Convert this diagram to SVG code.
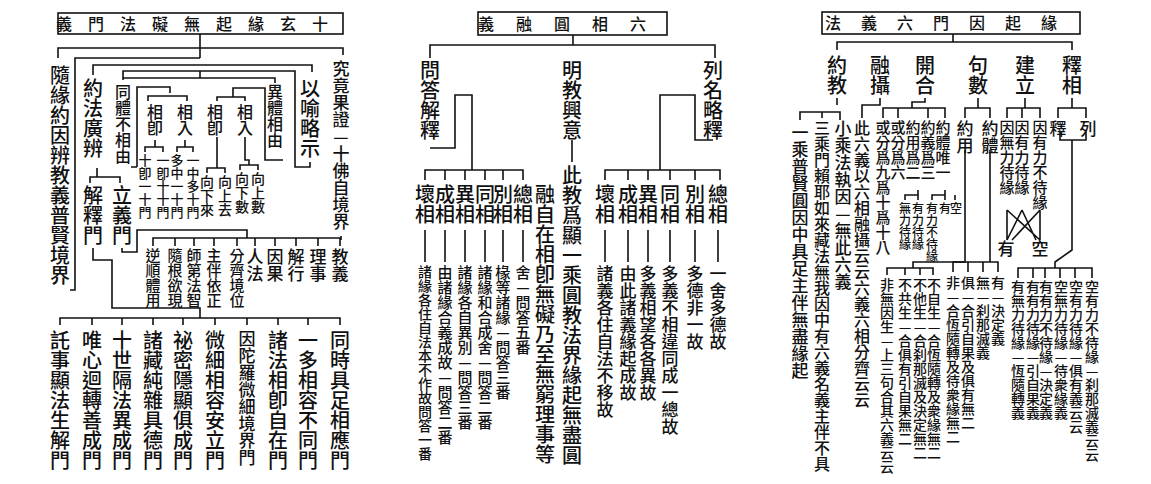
<svg xmlns="http://www.w3.org/2000/svg" width="1151" height="484" viewBox="0 0 1151 484">
<style>
text{font-family:"Noto Sans CJK TC","Noto Sans CJK JP",sans-serif;fill:#111;font-weight:500}
.v{writing-mode:vertical-rl;text-orientation:upright;text-anchor:start}
.h{text-anchor:middle}
.s20{font-size:20px}.s17{font-size:17px}.s16{font-size:16px}.s15{font-size:15px}.s14{font-size:14px}.s13{font-size:13px}.s12{font-size:12px}
.c path,.c rect{fill:none;stroke:#111;stroke-width:1.6}
</style>
<rect width="1151" height="484" fill="#fff"/>
<g class="c" id="connectors">
<rect x="58" y="13" width="285" height="21"/>
<rect x="478" y="12" width="189" height="23"/>
<rect x="822" y="12" width="258" height="22"/>
<!-- left panel -->
<path d="M200 34V58M58 58V48H343V55M200 58H75V290H70"/>
<path d="M93 75V65H312V72M123 80V71H295V167H310V162M123 80V78H275V83M200 78V71"/>
<path d="M137 167H131M137 167V87H170V93M148 101V96H187V101"/>
<path d="M283 160H265V88H233V97M217 101V97H245V101"/>
<path d="M155 140V147M145 152V147H163V152M185 140V147M177 152V147H193V152"/>
<path d="M217 137V168M207 173V168H225V173M245 137V160H249V165M240 170V165H258V170"/>
<path d="M97 168V177M90 183V177H120V183"/>
<path d="M93 248V260H112V308H200V318M60 325V318H340V325M92 318V325M122 318V325M153 318V325M183 318V325M215 318V325M247 318V325M278 318V325M308 318V325"/>
<path d="M122 248V252H137V230H247V238M153 246V238H340V246M175 238V246M194 238V246M214 238V246M237 238V246M255 238V246M275 238V246M296 238V246M318 238V246"/>
<path d="M341 236V240"/>
<!-- middle panel -->
<path d="M573 35V45M430 58V45H715V58M572 140V162"/>
<path d="M430 148H455V95H472V170M425 180V170H523V180M445 170V180M465 170V180M485 170V180M503 170V180"/>
<path d="M425 230V262M445 230V262M465 230V262M485 230V262M503 230V262M523 230V262"/>
<path d="M713 140H695V95H660V170M605 180V170H720V180M628 170V180M648 170V180M670 170V180M695 170V180"/>
<path d="M605 230V262M628 230V262M648 230V262M670 230V262M695 230V262M718 230V262"/>
<!-- right panel -->
<path d="M953 34V42M837 50V42H1072V50"/>
<path d="M837 98V105M800 120V112H840V120M822 112V118"/>
<path d="M880 98V105H862V118M925 98V102H912V108M883 118V108H945V118M898 108V118M928 108V118"/>
<path d="M905 200V195H918V200M918 195V190M932 200V195H945V200M945 195V190M955 200V195"/>
<path d="M978 98V108M965 118V108H990V118M965 150V262H913V268M887 275V268H933V275M905 268V275M920 268V275"/>
<path d="M990 150V262M953 272V262H998V272M968 262V272M983 262V272"/>
<path d="M1025 98V108M1007 118V108H1040V118M1022 108V118"/>
<path d="M1007 210V240M1040 210V240M1007 210L1040 240M1022 210L1007 240M1040 210L1012 240M1022 210L1036 240"/>
<path d="M1072 98V108M1058 118V108H1086V118M1060 132V140H1086V132M1072 140V250L1055 262V268M1018 278V268H1092V278M1033 268V278M1045 268V278M1060 268V278M1075 268V278"/>
</g>
<g id="title-left"><text class="h s16" x="200" y="30" letter-spacing="16">義門法礙無起緣玄十</text></g>
<g id="title-mid"><text class="h s16" x="573" y="30" letter-spacing="22">義融圓相六</text></g>
<g id="title-right"><text class="h s16" x="951" y="29" letter-spacing="20">法義六門因起緣</text></g>
<g id="l1"><text class="v s20" x="60" y="65">隨緣約因辨教義普賢境界</text></g>
<g id="l2"><text class="v s20" x="93" y="78">約法廣辨</text></g>
<g id="l3"><text class="v s20" x="93" y="185">解釋門</text></g>
<g id="l4"><text class="v s20" x="122" y="185">立義門</text></g>
<g id="l5"><text class="v s16" x="123" y="84">同體不相由</text></g>
<g id="l6"><text class="v s16" x="155" y="104">相卽</text></g>
<g id="l7"><text class="v s16" x="185" y="104">相入</text></g>
<g id="l8"><text class="v s16" x="215" y="104">相卽</text></g>
<g id="l9"><text class="v s16" x="245" y="104">相入</text></g>
<g id="l10"><text class="v s13" x="145" y="154">十卽一十門</text></g>
<g id="l11"><text class="v s13" x="163" y="154">一卽十十門</text></g>
<g id="l12"><text class="v s13" x="177" y="154">多中一十門</text></g>
<g id="l13"><text class="v s13" x="193" y="154">一中多十門</text></g>
<g id="l14"><text class="v s14" x="207" y="175">向下來</text></g>
<g id="l15"><text class="v s14" x="225" y="175">向上去</text></g>
<g id="l16"><text class="v s14" x="242" y="172">向下數</text></g>
<g id="l17"><text class="v s14" x="258" y="172">向上數</text></g>
<g id="l18"><text class="v s16" x="275" y="84">異體相由</text></g>
<g id="l19"><text class="v s20" x="310" y="78">以喻略示</text></g>
<g id="l20"><text class="v s17" x="341" y="60">究竟果證—十佛自境界</text></g>
<g id="l21"><text class="v s17" x="340" y="248">教義</text><text class="v s17" x="318" y="248">理事</text><text class="v s17" x="296" y="248">解行</text><text class="v s17" x="275" y="248">因果</text><text class="v s17" x="255" y="248">人法</text><text class="v s15" x="237" y="248">分齊境位</text><text class="v s15" x="214" y="248">主伴依正</text><text class="v s15" x="194" y="248">師第法智</text><text class="v s15" x="175" y="248">隨根欲現</text><text class="v s15" x="153" y="248">逆順體用</text></g>
<g id="l22"><text class="v s20" x="60" y="330">託事顯法生解門</text></g>
<g id="l23"><text class="v s20" x="92" y="330">唯心迴轉善成門</text></g>
<g id="l24"><text class="v s20" x="122" y="330">十世隔法異成門</text></g>
<g id="l25"><text class="v s20" x="153" y="330">諸藏純雜具德門</text></g>
<g id="l26"><text class="v s20" x="183" y="330">祕密隱顯俱成門</text></g>
<g id="l27"><text class="v s20" x="215" y="330">微細相容安立門</text></g>
<g id="l28"><text class="v s17" x="247" y="330">因陀羅微細境界門</text></g>
<g id="l29"><text class="v s20" x="278" y="330">諸法相卽自在門</text></g>
<g id="l30"><text class="v s20" x="308" y="330">一多相容不同門</text></g>
<g id="l31"><text class="v s20" x="340" y="330">同時具足相應門</text></g>
<g id="m1"><text class="v s20" x="430" y="60">問答解釋</text></g>
<g id="m2"><text class="v s20" x="572" y="60">明教興意</text></g>
<g id="m3"><text class="v s20" x="572" y="165">此教爲顯一乘圓教法界緣起無盡圓</text></g>
<g id="m4"><text class="v s20" x="713" y="60">列名略釋</text></g>
<g id="m5"><text class="v s20" x="425" y="184">壞相</text><text class="v s14" x="425" y="265">諸緣各住自法本不作故問答一番</text></g>
<g id="m6"><text class="v s20" x="445" y="184">成相</text><text class="v s15" x="445" y="265">由諸緣合義成故—問答二番</text></g>
<g id="m7"><text class="v s20" x="465" y="184">異相</text><text class="v s15" x="465" y="265">諸緣各自異別—問答三番</text></g>
<g id="m8"><text class="v s20" x="485" y="184">同相</text><text class="v s15" x="485" y="265">諸緣和合成舍—問答二番</text></g>
<g id="m9"><text class="v s20" x="503" y="184">別相</text><text class="v s15" x="503" y="265">椽等諸緣—問答三番</text></g>
<g id="m10"><text class="v s20" x="523" y="184">總相</text><text class="v s15" x="523" y="265">舍—問答五番</text></g>
<g id="m11"><text class="v s20" x="545" y="184">融自在相卽無礙乃至無窮理事等</text></g>
<g id="m12"><text class="v s20" x="605" y="184">壞相</text><text class="v s17" x="605" y="265">諸義各住自法不移故</text></g>
<g id="m13"><text class="v s20" x="628" y="184">成相</text><text class="v s17" x="628" y="265">由此諸義緣起成故</text></g>
<g id="m14"><text class="v s20" x="648" y="184">異相</text><text class="v s17" x="648" y="265">多義相望各各異故</text></g>
<g id="m15"><text class="v s20" x="670" y="184">同相</text><text class="v s17" x="670" y="265">多義不相違同成一總故</text></g>
<g id="m16"><text class="v s20" x="695" y="184">別相</text><text class="v s17" x="695" y="265">多德非一故</text></g>
<g id="m17"><text class="v s20" x="718" y="184">總相</text><text class="v s17" x="718" y="265">一舍多德故</text></g>
<g id="r1"><text class="v s20" x="837" y="55">約教</text></g>
<g id="r2"><text class="v s20" x="880" y="55">融攝</text></g>
<g id="r3"><text class="v s20" x="925" y="55">開合</text></g>
<g id="r4"><text class="v s20" x="978" y="55">句數</text></g>
<g id="r5"><text class="v s20" x="1025" y="55">建立</text></g>
<g id="r6"><text class="v s20" x="1072" y="55">釋相</text></g>
<g id="r7"><text class="v s17" x="800" y="124">一乘普賢圓因中具足主伴無盡緣起</text></g>
<g id="r8"><text class="v s16" x="822" y="120">三乘門賴耶如來藏法無我因中有六義名義主伴不具</text></g>
<g id="r9"><text class="v s17" x="843" y="120">小乘法執因—無此六義</text></g>
<g id="r10"><text class="v s16" x="862" y="120">此六義以六相融攝云云六義六相分齊云云</text></g>
<g id="r11"><text class="v s15" x="883" y="120">或分爲九爲十爲十八</text></g>
<g id="r12"><text class="v s15" x="898" y="120">或分爲六</text></g>
<g id="r13"><text class="v s15" x="913" y="120">約用爲二</text></g>
<g id="r14"><text class="v s15" x="928" y="120">約義爲三</text></g>
<g id="r15"><text class="v s15" x="943" y="120">約體唯一</text></g>
<g id="r16"><text class="v s12" x="905" y="202">無力待緣</text><text class="v s12" x="918" y="202">有力待緣</text><text class="v s12" x="932" y="202">有力不待緣</text><text class="v s12" x="945" y="202">有</text><text class="v s12" x="956" y="202">空</text></g>
<g id="r17"><text class="v s17" x="965" y="120">約用</text></g>
<g id="r18"><text class="v s17" x="990" y="120">約體</text></g>
<g id="r19"><text class="v s15" x="1007" y="120">因無力待緣</text></g>
<g id="r20"><text class="v s15" x="1022" y="120">因有力待緣</text></g>
<g id="r21"><text class="v s15" x="1040" y="120">因有力不待緣</text></g>
<g id="r22"><text class="v s17" x="1006" y="240">有</text><text class="v s17" x="1040" y="240">空</text></g>
<g id="r23"><text class="v s17" x="1058" y="120">釋</text><text class="v s17" x="1088" y="120">列</text></g>
<g id="r24"><text class="v s14" x="887" y="278">非無因生—上三句合其六義云云</text></g>
<g id="r25"><text class="v s14" x="905" y="278">不共生—合俱有引自果無二</text></g>
<g id="r26"><text class="v s14" x="920" y="278">不他生—合刹那滅及決定無二</text></g>
<g id="r27"><text class="v s14" x="934" y="278">不自生—合恆隨轉及衆緣無二</text></g>
<g id="r28"><text class="v s14" x="953" y="276">非—合恆隨轉及待衆緣無二</text></g>
<g id="r29"><text class="v s14" x="968" y="276">俱—合引自果及俱有無二</text></g>
<g id="r30"><text class="v s14" x="983" y="276">無—刹那滅義</text></g>
<g id="r31"><text class="v s14" x="998" y="276">有—決定義</text></g>
<g id="r32"><text class="v s14" x="1018" y="280">有無力待緣—恆隨轉義</text></g>
<g id="r33"><text class="v s14" x="1033" y="280">有有力待緣—引自果義</text></g>
<g id="r34"><text class="v s14" x="1046" y="280">有有力不待緣—決定義</text></g>
<g id="r35"><text class="v s14" x="1061" y="280">空無力待緣—待衆緣義</text></g>
<g id="r36"><text class="v s14" x="1076" y="280">空有力待緣—俱有義云云</text></g>
<g id="r37"><text class="v s14" x="1092" y="280">空有力不待緣—刹那滅義云云</text></g>
</svg>
